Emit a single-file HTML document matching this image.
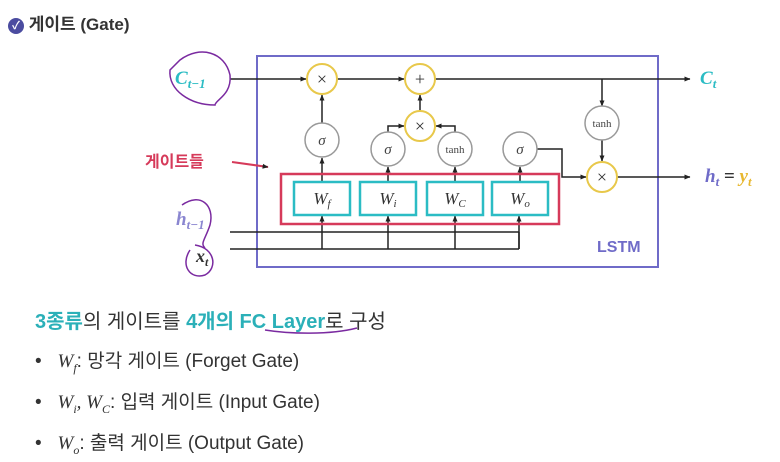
<!DOCTYPE html><html><head><meta charset="utf-8"><style>
body{margin:0;width:780px;height:462px;background:#fff;overflow:hidden;font-family:"Liberation Sans","Noto Sans CJK KR",sans-serif}
.t{position:absolute;white-space:nowrap}
</style></head><body>
<div class="t" style="left:8px;top:10px;font-size:17px;font-weight:bold;color:#333"><span style="display:inline-block;width:16px;height:16px;border-radius:50%;background:#4b4ca0;color:#fff;font-size:11px;text-align:center;line-height:16px;vertical-align:1px">✓</span> 게이트 (Gate)</div>
<svg width="780" height="462" style="position:absolute;left:0;top:0" font-family="Liberation Serif,serif">
<defs><marker id="a" markerWidth="6" markerHeight="6" refX="5.5" refY="3" orient="auto" markerUnits="userSpaceOnUse"><path d="M0,0.5L6,3L0,5.5z" fill="#222"/></marker></defs>
<rect x="257" y="56" width="401" height="211" fill="none" stroke="#6f6bc8" stroke-width="2"/>
<g stroke="#222" stroke-width="1.5" fill="none">
<line x1="230" y1="79" x2="306" y2="79" marker-end="url(#a)"/>
<line x1="337" y1="79" x2="404" y2="79" marker-end="url(#a)"/>
<line x1="435" y1="79" x2="690" y2="79" marker-end="url(#a)"/>
<line x1="322" y1="123" x2="322" y2="95" marker-end="url(#a)"/>
<line x1="420" y1="111" x2="420" y2="95" marker-end="url(#a)"/>
<polyline points="388,132 388,126 404,126" marker-end="url(#a)"/>
<polyline points="455,132 455,126 436,126" marker-end="url(#a)"/>
<line x1="322" y1="182" x2="322" y2="158" marker-end="url(#a)"/>
<line x1="388" y1="182" x2="388" y2="167" marker-end="url(#a)"/>
<line x1="455" y1="182" x2="455" y2="167" marker-end="url(#a)"/>
<line x1="520" y1="182" x2="520" y2="167" marker-end="url(#a)"/>
<polyline points="537,149 562,149 562,177 586,177" marker-end="url(#a)"/>
<line x1="602" y1="79" x2="602" y2="106" marker-end="url(#a)"/>
<line x1="602" y1="140" x2="602" y2="161" marker-end="url(#a)"/>
<line x1="617" y1="177" x2="690" y2="177" marker-end="url(#a)"/>
<line x1="230" y1="232" x2="519" y2="232"/>
<line x1="230" y1="249" x2="519" y2="249"/>
<line x1="519" y1="232" x2="519" y2="249"/>
<line x1="322" y1="249" x2="322" y2="216" marker-end="url(#a)"/>
<line x1="388" y1="249" x2="388" y2="216" marker-end="url(#a)"/>
<line x1="455" y1="249" x2="455" y2="216" marker-end="url(#a)"/>
<line x1="519" y1="249" x2="519" y2="216" marker-end="url(#a)"/>
</g>
<g fill="#fff" stroke="#e8c84a" stroke-width="2">
<circle cx="322" cy="79" r="15"/><circle cx="420" cy="79" r="15"/><circle cx="420" cy="126" r="15"/><circle cx="602" cy="177" r="15"/></g>
<g fill="#fff" stroke="#999" stroke-width="1.5">
<circle cx="322" cy="140" r="17"/><circle cx="388" cy="149" r="17"/><circle cx="455" cy="149" r="17"/><circle cx="520" cy="149" r="17"/><circle cx="602" cy="123" r="17"/></g>
<g font-size="18" text-anchor="middle" fill="#333"><text x="322" y="85">×</text><text x="420" y="85">+</text><text x="420" y="132">×</text><text x="602" y="183">×</text></g>
<g font-size="15" font-style="italic" text-anchor="middle" fill="#444"><text x="322" y="145">σ</text><text x="388" y="154">σ</text><text x="520" y="154">σ</text></g>
<g font-size="11" text-anchor="middle" fill="#444"><text x="455" y="153">tanh</text><text x="602" y="127">tanh</text></g>
<rect x="281" y="174" width="278" height="50" fill="none" stroke="#d63a5a" stroke-width="2.5"/>
<g fill="#fff" stroke="#2bbcc4" stroke-width="2.5">
<rect x="294" y="182" width="56" height="33"/><rect x="360" y="182" width="56" height="33"/><rect x="427" y="182" width="56" height="33"/><rect x="492" y="182" width="56" height="33"/></g>
<g font-size="17" font-style="italic" text-anchor="middle" fill="#333">
<text x="322" y="204">W<tspan font-size="11" dy="3">f</tspan></text>
<text x="388" y="204">W<tspan font-size="11" dy="3">i</tspan></text>
<text x="455" y="204">W<tspan font-size="11" dy="3">C</tspan></text>
<text x="520" y="204">W<tspan font-size="11" dy="3">o</tspan></text></g>
<text x="175" y="84" font-size="19" font-style="italic" font-weight="bold" fill="#2bbcc4">C<tspan font-size="13" dy="4">t−1</tspan></text>
<text x="176" y="225" font-size="19" font-style="italic" font-weight="bold" fill="#8a86d0">h<tspan font-size="13" dy="4">t−1</tspan></text>
<text x="196" y="262" font-size="18" font-style="italic" font-weight="bold" fill="#333">x<tspan font-size="12" dy="4">t</tspan></text>
<text x="700" y="84" font-size="19" font-style="italic" font-weight="bold" fill="#2bbcc4">C<tspan font-size="13" dy="4">t</tspan></text>
<text x="705" y="182" font-size="19" font-style="italic" font-weight="bold" fill="#6f6bc8">h<tspan font-size="13" dy="4">t</tspan><tspan dy="-4" font-style="normal" fill="#333"> = </tspan><tspan fill="#e8b830">y</tspan><tspan font-size="13" dy="4" fill="#e8b830">t</tspan></text>
<text x="597" y="252" font-size="16" font-family="Liberation Sans,sans-serif" font-weight="bold" fill="#6f6bc8">LSTM</text>
<line x1="232" y1="162" x2="268" y2="167" stroke="#d63a5a" stroke-width="2" marker-end="url(#a)"/>
<g fill="none" stroke="#7a2aa0" stroke-width="1.5">
<path d="M180,60 C200,45 225,52 230,75 C232,95 215,100 215,105 C190,105 168,90 170,70z"/>
<path d="M182,205 C200,192 215,205 210,225 C205,240 200,243 205,248"/>
<path d="M190,250 C180,265 190,280 205,275 C218,268 215,248 195,245"/>
<path d="M265,330 C290,334 330,335 357,328"/></g>
</svg>
<div class="t" style="left:145px;top:148px;font-size:16px;font-weight:bold;color:#d63a5a">게이트들</div>
<div class="t" style="left:35px;top:305px;font-size:20px;color:#333"><b style="color:#2bb0b8">3종류</b>의 게이트를 <b style="color:#2bb0b8">4개의 FC Layer</b>로 구성</div>
<div class="t" style="left:35px;top:346px;font-size:19px;color:#333">•&nbsp;&nbsp;&nbsp;<i style="font-family:'Liberation Serif',serif">W<sub style="font-size:12px">f</sub></i>: 망각 게이트 (Forget Gate)</div>
<div class="t" style="left:35px;top:387px;font-size:19px;color:#333">•&nbsp;&nbsp;&nbsp;<i style="font-family:'Liberation Serif',serif">W<sub style="font-size:12px">i</sub>, W<sub style="font-size:12px">C</sub></i>: 입력 게이트 (Input Gate)</div>
<div class="t" style="left:35px;top:428px;font-size:19px;color:#333">•&nbsp;&nbsp;&nbsp;<i style="font-family:'Liberation Serif',serif">W<sub style="font-size:12px">o</sub></i>: 출력 게이트 (Output Gate)</div>
</body></html>
